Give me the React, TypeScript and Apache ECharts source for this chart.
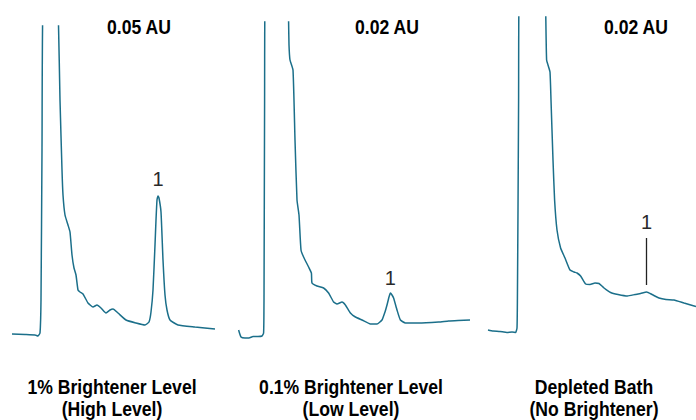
import React, { useEffect, useRef } from "react";
import * as echarts from "echarts";

// Retention time (min) and absorbance (relative units) for each chromatogram
const highTime = [0, 0.65, 1.15, 1.3, 1.4, 1.45, 1.5, 1.55, 1.9, 2.25, 2.32, 2.4, 2.5, 2.55, 2.65, 2.8, 2.9, 3.0, 3.1, 3.2, 3.3, 3.4, 3.55, 3.8, 4.05, 4.25, 4.45, 4.7, 4.9, 5.05, 5.3, 5.7, 6.2, 6.65, 6.85, 6.95, 7.05, 7.15, 7.2, 7.25, 7.3, 7.35, 7.45, 7.55, 7.65, 7.75, 7.9, 8.3, 9.15, 10.15];
const highAbs = [1.1, 1.05, 1.0, 0.9, 1.2, 4.5, 19.5, 34.5, 40, 34.5, 32.5, 24.5, 17.5, 15.0, 13.0, 12.0, 11.3, 9.0, 7.7, 7.0, 5.5, 5.3, 5.1, 4.2, 3.8, 4.0, 3.7, 3.2, 3.5, 3.6, 3.2, 2.5, 2.2, 2.0, 2.3, 3.3, 5.5, 10.0, 12.5, 14.5, 14.9, 14.7, 13.3, 8.5, 5.0, 3.5, 2.5, 2.0, 1.8, 1.6];

const lowTime = [0.03, 0.15, 0.35, 0.55, 0.75, 1.0, 1.2, 1.28, 1.3, 1.33, 1.35, 1.85, 2.5, 2.53, 2.55, 2.6, 2.75, 2.85, 2.95, 3.05, 3.15, 3.28, 3.53, 3.67, 3.7, 3.95, 4.28, 4.53, 4.78, 4.95, 5.2, 5.37, 5.62, 5.87, 6.2, 6.62, 6.95, 7.2, 7.35, 7.45, 7.55, 7.62, 7.7, 7.78, 7.95, 8.12, 8.37, 9.03, 10.03, 10.53, 11.0, 11.6];
const lowAbs = [1.5, 0.8, 0.7, 0.7, 0.85, 0.85, 0.9, 1.2, 4.5, 24.5, 34.5, 39.5, 34.5, 32.3, 30.0, 28.5, 27.5, 20.5, 14.5, 13.0, 9.5, 8.8, 7.8, 7.2, 6.2, 5.9, 5.7, 5.2, 4.3, 4.1, 4.3, 4.0, 3.2, 2.8, 2.5, 2.1, 2.1, 2.5, 3.3, 4.0, 4.8, 5.2, 5.0, 4.7, 3.5, 2.5, 2.2, 2.2, 2.3, 2.4, 2.45, 2.5];

const depTime = [0.05, 0.3, 0.65, 1.0, 1.25, 1.43, 1.5, 1.52, 1.55, 1.58, 1.6, 2.15, 2.93, 2.94, 2.98, 3.05, 3.15, 3.2, 3.3, 3.38, 3.5, 3.68, 3.9, 4.15, 4.35, 4.5, 4.68, 4.93, 5.15, 5.4, 5.6, 5.85, 6.18, 6.55, 7.02, 7.4, 7.68, 7.98, 8.25, 8.6, 8.95, 9.35, 9.85, 10.45];
const depAbs = [1.5, 1.4, 1.35, 1.25, 1.3, 1.25, 1.7, 4.5, 13.5, 24.5, 34.5, 39.5, 35.0, 32.8, 28.5, 28.0, 27.3, 24.5, 18.5, 14.5, 11.5, 9.7, 8.7, 7.5, 7.3, 7.2, 6.9, 6.1, 6.05, 6.2, 6.15, 5.7, 5.25, 5.05, 4.9, 5.05, 5.15, 5.3, 5.05, 4.7, 4.55, 4.5, 4.2, 3.85];

const scaleLabels = ["0.05 AU", "0.02 AU", "0.02 AU"];
const sampleLabels = [
  ["1% Brightener Level", "(High Level)"],
  ["0.1% Brightener Level", "(Low Level)"],
  ["Depleted Bath", "(No Brightener)"],
];
const peakName = "1";
const peakTimes = [7.3, 7.62, 7.98];
const peakAbs = [14.9, 5.2, 5.3];
const depMarkerTop = 10.7;
const depMarkerBottom = 6.0;

const LINE = "#1b6f8a";
const FONT = "'Liberation Sans', Arial, sans-serif";

function zip(t: number[], a: number[]) {
  return t.map((x, i) => [x, a[i]]);
}

export default function App() {
  const ref = useRef<HTMLDivElement>(null);
  useEffect(() => {
    if (!ref.current) return;
    const chart = echarts.init(ref.current, undefined, { renderer: "svg" });
    const grids = [
      { left: 12, top: 26, width: 205, height: 319 },
      { left: 238, top: 22, width: 232, height: 323 },
      { left: 487, top: 17, width: 209, height: 328 },
    ];
    const xMax = [10.25, 11.6, 10.45];
    const yMax = [31.9, 32.3, 32.8];
    const datasets = [zip(highTime, highAbs), zip(lowTime, lowAbs), zip(depTime, depAbs)];
    const labelDist = [7, 5, 6];

    const series: any[] = datasets.map((d, i) => ({
      type: "line",
      xAxisIndex: i,
      yAxisIndex: i,
      data: d,
      showSymbol: false,
      symbol: "none",
      clip: true,
      smooth: 0.15,
      lineStyle: { color: LINE, width: 1.5 },
      markPoint: {
        symbol: "circle",
        symbolSize: 1,
        itemStyle: { color: "rgba(0,0,0,0)" },
        label: {
          show: true,
          formatter: peakName,
          position: "top",
          distance: labelDist[i],
          color: "#2a2a2a",
          fontFamily: FONT,
          fontSize: 20,
        },
        data: [
          {
            coord: [peakTimes[i], i === 2 ? depMarkerTop : peakAbs[i]],
          },
        ],
      },
      markLine:
        i === 2
          ? {
              symbol: ["none", "none"],
              silent: true,
              label: { show: false },
              lineStyle: { color: "#222", width: 1.3, type: "solid" },
              data: [[{ coord: [peakTimes[2], depMarkerBottom] }, { coord: [peakTimes[2], depMarkerTop] }]],
            }
          : undefined,
    }));

    const titleX = [139, 387, 636];
    const bottomX = [112, 351, 594];
    const graphics: any[] = [];
    scaleLabels.forEach((s, i) => {
      graphics.push({
        type: "text",
        x: titleX[i],
        y: 27,
        scaleX: 0.88,
        style: {
          text: s,
          fill: "#000",
          font: `bold 20px ${FONT}`,
          textAlign: "center",
          textVerticalAlign: "middle",
        },
      });
    });
    sampleLabels.forEach((lines, i) => {
      lines.forEach((l, j) => {
        graphics.push({
          type: "text",
          x: bottomX[i],
          y: 387 + j * 22,
          scaleX: 0.88,
          style: {
            text: l,
            fill: "#000",
            font: `bold 20px ${FONT}`,
            textAlign: "center",
            textVerticalAlign: "middle",
          },
        });
      });
    });

    chart.setOption({
      animation: false,
      backgroundColor: "#fff",
      grid: grids,
      xAxis: grids.map((_, i) => ({
        type: "value",
        gridIndex: i,
        min: 0,
        max: xMax[i],
        show: false,
      })),
      yAxis: grids.map((_, i) => ({
        type: "value",
        gridIndex: i,
        min: 0,
        max: yMax[i],
        show: false,
      })),
      series,
      graphic: graphics,
    });
    return () => chart.dispose();
  }, []);
  return (
    <div
      ref={ref}
      style={{ position: "fixed", left: 0, top: 0, width: 696, height: 420 }}
    />
  );
}
